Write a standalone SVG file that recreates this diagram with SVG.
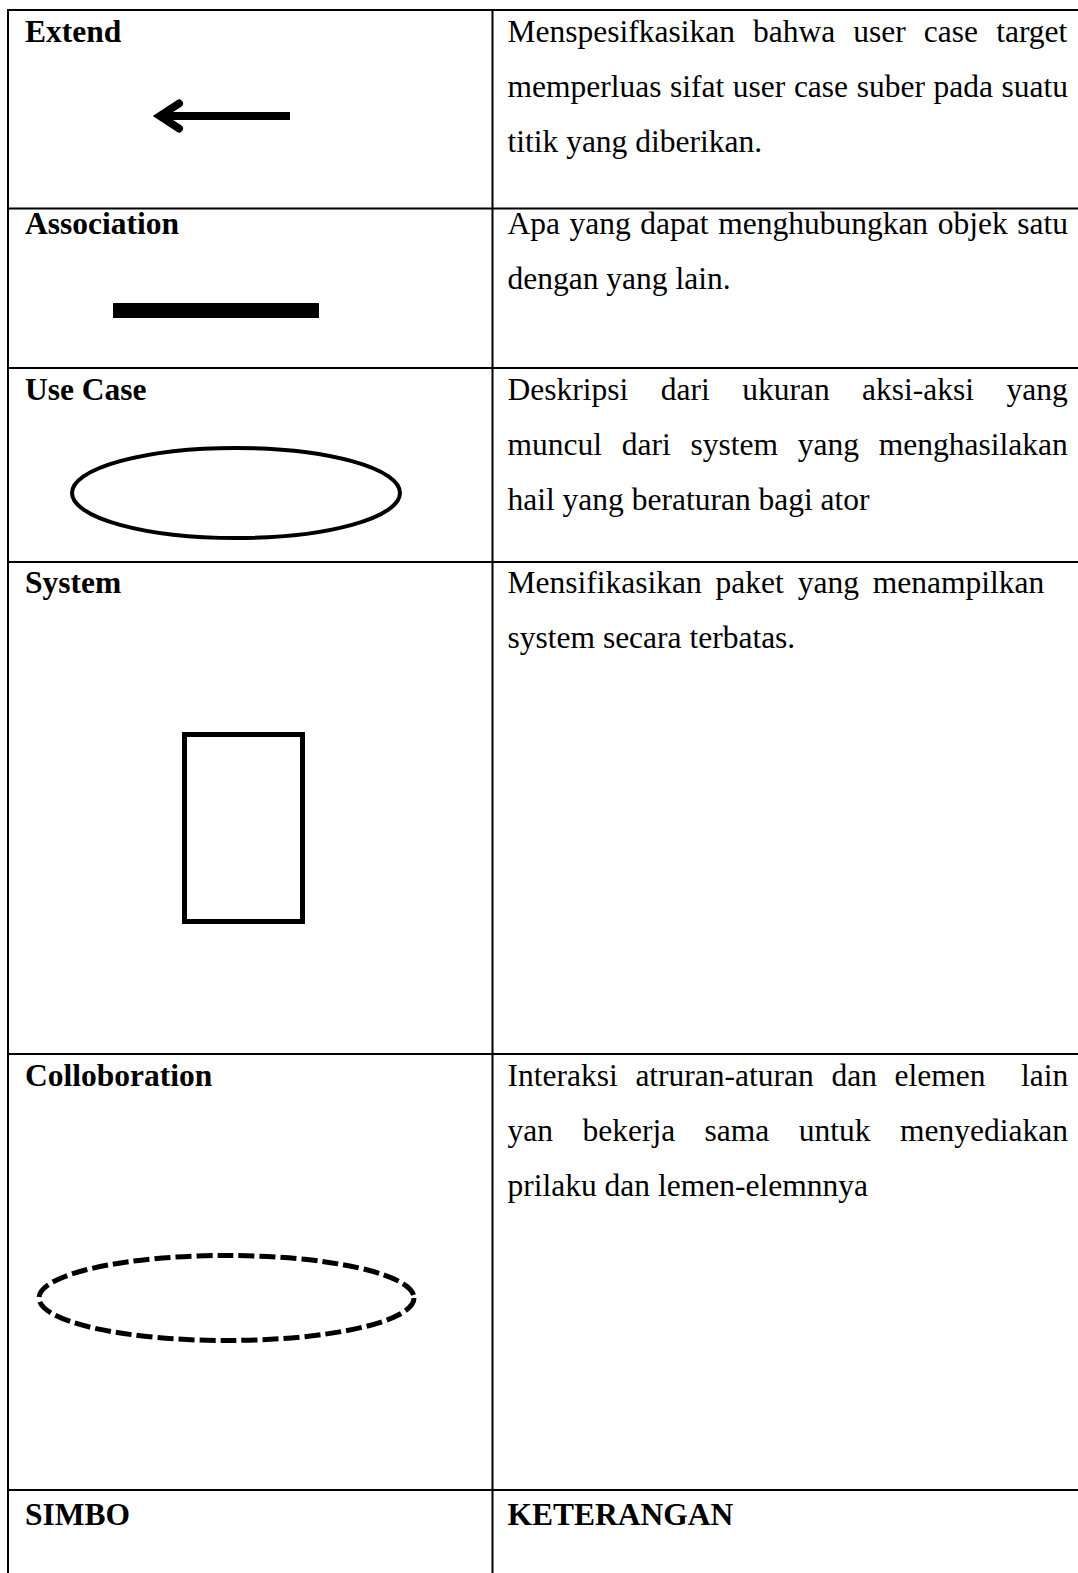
<svg xmlns="http://www.w3.org/2000/svg" width="1078" height="1573" viewBox="0 0 1078 1573">
  <style>
    .t { font-family: "Liberation Serif", "Times New Roman", serif; font-size: 31.5px; fill: #000; }
    .b { font-weight: bold; }
    .grid { stroke: #000; stroke-width: 2; fill: none; }
    .sym { stroke: #000; fill: none; }
  </style>
  <rect width="1078" height="1573" fill="#fff"/>

  <!-- table rules -->
  <g id="table-lines" class="grid">
    <line x1="8" y1="10" x2="1078" y2="10"/>
    <line x1="8" y1="208.5" x2="1078" y2="208.5"/>
    <line x1="8" y1="368" x2="1078" y2="368"/>
    <line x1="8" y1="562" x2="1078" y2="562"/>
    <line x1="8" y1="1054" x2="1078" y2="1054"/>
    <line x1="8" y1="1490" x2="1078" y2="1490"/>
    <line x1="8" y1="9" x2="8" y2="1573"/>
    <line x1="492.5" y1="9" x2="492.5" y2="1573"/>
  </g>

  <!-- Extend -->
  <g id="row-extend">
    <text class="t b" x="25" y="42">Extend</text>
    <line class="sym" x1="160" y1="116" x2="290" y2="116" stroke-width="8"/>
    <polyline class="sym" points="179,103.5 160,116 179,128.5" stroke-width="8" stroke-linecap="round" stroke-linejoin="miter"/>
    <text class="t" x="507.5" y="42" style="word-spacing:10.2px">Menspesifkasikan bahwa user case target</text>
    <text class="t" x="507.5" y="97" style="word-spacing:0.7px">memperluas sifat user case suber pada suatu</text>
    <text class="t" x="507.5" y="152">titik yang diberikan.</text>
  </g>

  <!-- Association -->
  <g id="row-association">
    <text class="t b" x="25" y="234">Association</text>
    <rect x="113" y="303" width="206" height="15" fill="#000"/>
    <text class="t" x="507.5" y="234" style="word-spacing:1.7px">Apa yang dapat menghubungkan objek satu</text>
    <text class="t" x="507.5" y="289">dengan yang lain.</text>
  </g>

  <!-- Use Case -->
  <g id="row-usecase">
    <text class="t b" x="25" y="400">Use Case</text>
    <ellipse class="sym" cx="236" cy="493" rx="164" ry="45" stroke-width="4"/>
    <text class="t" x="507.5" y="400" style="word-spacing:24.6px">Deskripsi dari ukuran aksi-aksi yang</text>
    <text class="t" x="507.5" y="455" style="word-spacing:11.9px">muncul dari system yang menghasilakan</text>
    <text class="t" x="507.5" y="510">hail yang beraturan bagi ator</text>
  </g>

  <!-- System -->
  <g id="row-system">
    <text class="t b" x="25" y="593">System</text>
    <rect class="sym" x="184.5" y="734.5" width="118" height="187" stroke-width="5"/>
    <text class="t" x="507.5" y="593" style="word-spacing:6px">Mensifikasikan paket yang menampilkan</text>
    <text class="t" x="507.5" y="648">system secara terbatas.</text>
  </g>

  <!-- Colloboration -->
  <g id="row-colloboration">
    <text class="t b" x="25" y="1086">Colloboration</text>
    <ellipse class="sym" cx="226.5" cy="1298" rx="187.5" ry="42.5" stroke-width="5" stroke-dasharray="16 5"/>
    <text class="t" x="507.5" y="1086" style="word-spacing:9.8px;white-space:pre">Interaksi atruran-aturan dan elemen  lain</text>
    <text class="t" x="507.5" y="1141" style="word-spacing:21.6px">yan bekerja sama untuk menyediakan</text>
    <text class="t" x="507.5" y="1196">prilaku dan lemen-elemnnya</text>
  </g>

  <!-- header row -->
  <g id="row-header">
    <text class="t b" x="25" y="1525">SIMBO</text>
    <text class="t b" x="507.5" y="1525">KETERANGAN</text>
  </g>
</svg>
